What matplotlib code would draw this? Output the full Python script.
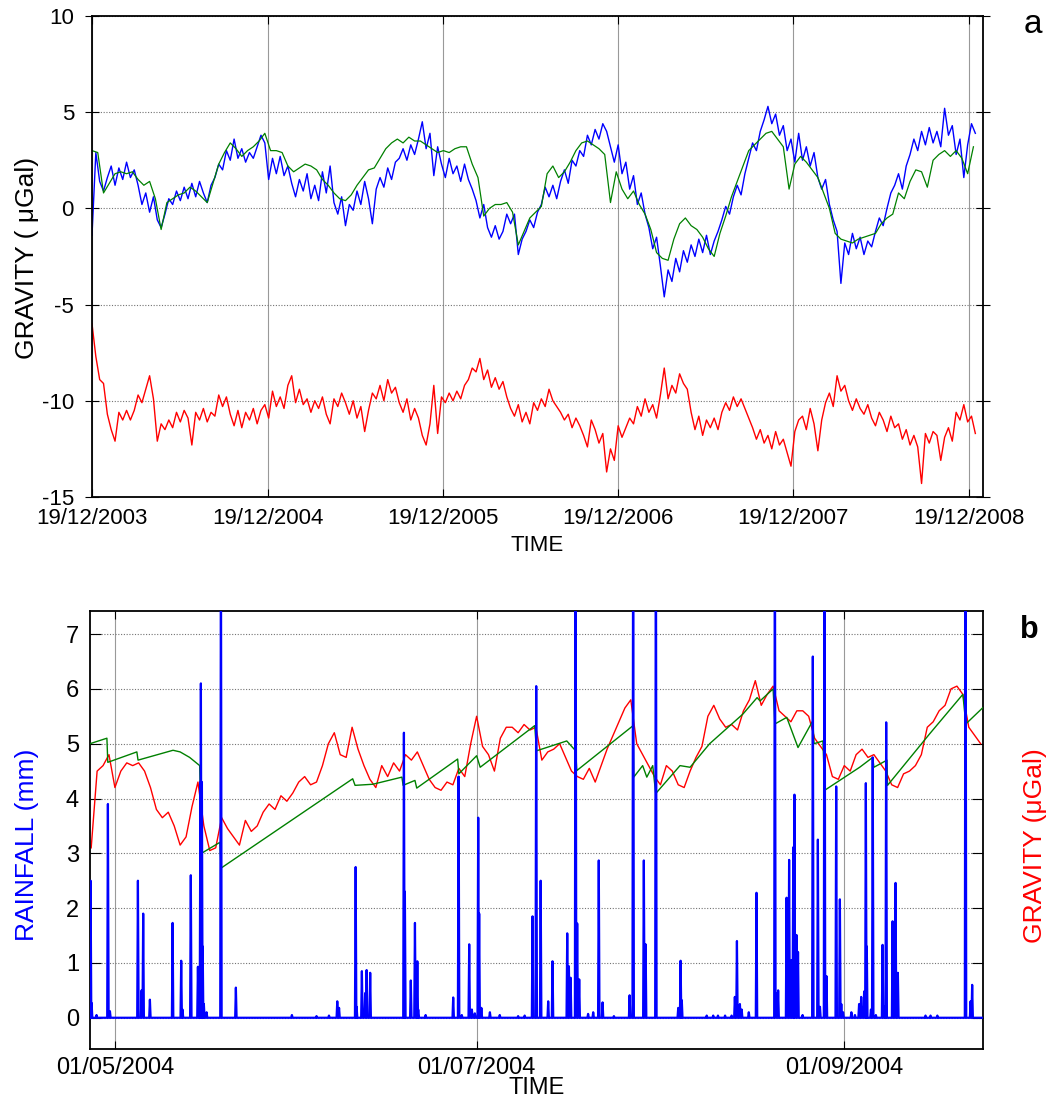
"""Gravity residuals (a) and rainfall vs gravity (b)."""

import datetime as dt
import numpy as np
import matplotlib
matplotlib.use('Agg')
import matplotlib.pyplot as plt
import matplotlib.dates as mdates

plt.rcParams['font.family'] = ['Liberation Sans', 'DejaVu Sans']
plt.rcParams['axes.unicode_minus'] = False

# ---------------- panel a ----------------
a_start = dt.datetime(2003, 12, 19)
a_end = dt.datetime(2009, 1, 17)
a_step = 8        # days between samples of the blue / red series
model_step = 12   # days between samples of the green series

grav_obs = [
    -1.4, 2.9, 1.4, 0.9, 1.6, 2.2, 1.2, 2.1, 1.5, 2.4,
    1.6, 2.0, 1.2, 0.2, 0.8, -0.2, 0.6, -0.6, -1.0, -0.3,
    0.5, 0.2, 0.9, 0.4, 1.1, 0.5, 1.3, 0.6, 1.4, 0.8,
    0.3, 1.2, 1.6, 2.3, 2.0, 3.0, 2.5, 3.6, 2.6, 3.1,
    2.4, 2.9, 2.6, 3.2, 3.8, 3.4, 1.5, 2.6, 1.8, 2.7,
    1.7, 2.2, 1.3, 0.6, 1.5, 0.9, 1.8, 0.5, 1.2, 0.4,
    1.9, 0.8, 2.2, 0.3, -0.3, 0.6, -0.9, 0.2, -0.1, 0.9,
    0.2, 1.4, 0.5, -0.8, 1.0, 1.6, 1.1, 2.1, 1.5, 2.4,
    2.6, 3.1, 2.5, 3.3, 2.8, 3.6, 4.5, 3.1, 3.9, 1.7,
    3.2, 2.3, 1.6, 2.6, 1.8, 2.2, 1.4, 2.3, 1.5, 1.0,
    0.4, -0.5, 0.2, -1.0, -1.5, -0.9, -1.6, -1.2, -0.3, -0.8,
    -0.3, -2.4, -1.6, -1.2, -0.6, -1.0, -0.2, 0.2, 1.1, 0.6,
    1.2, 0.5, 1.4, 2.0, 1.3, 2.5, 2.2, 3.0, 2.7, 3.8,
    3.3, 4.1, 3.6, 4.4, 4.0, 3.2, 2.4, 3.3, 1.8, 2.4,
    1.0, 1.7, 0.2, 0.8, -0.3, -1.0, -2.1, -1.5, -3.0, -4.6,
    -3.2, -3.8, -2.6, -3.3, -2.2, -2.8, -1.9, -2.5, -1.6, -2.3,
    -1.4, -2.4, -1.7, -1.2, -0.6, 0.1, -0.3, 0.6, 1.2, 0.7,
    1.8, 2.6, 3.4, 3.0, 4.0, 4.6, 5.3, 4.4, 4.9, 3.8,
    4.3, 3.0, 3.6, 2.4, 3.9, 2.5, 3.2, 2.2, 2.9, 1.6,
    1.0, 1.5, 0.2, -0.6, -1.2, -3.9, -1.8, -2.4, -1.3, -2.1,
    -1.5, -2.4, -1.7, -2.0, -1.2, -0.5, -0.9, 0.0, 0.8, 1.2,
    1.8, 1.0, 2.2, 2.8, 3.6, 3.0, 4.0, 3.3, 4.2, 3.4,
    4.0, 3.2, 5.2, 3.8, 4.3, 2.8, 3.6, 1.6, 3.3, 4.4, 3.9,
]

grav_model = [
    3.0, 2.9, 0.8, 1.3, 1.8, 1.9, 1.8, 1.9, 1.5, 1.2,
    1.4, 0.5, -1.1, 0.3, 0.5, 0.7, 0.8, 1.1, 0.9, 0.6,
    0.3, 1.3, 2.3, 2.9, 3.4, 3.1, 2.7, 3.0, 3.2, 3.5,
    3.9, 3.0, 3.0, 2.9, 2.2, 1.9, 2.1, 2.3, 2.2, 2.0,
    1.5, 1.2, 0.8, 0.5, 0.4, 0.7, 1.2, 1.6, 2.0, 2.1,
    2.6, 3.1, 3.4, 3.6, 3.4, 3.7, 3.5, 3.5, 3.3, 3.1,
    2.9, 3.0, 2.9, 3.1, 3.2, 3.2, 2.3, 1.6, -0.4, 0.0,
    0.2, 0.2, 0.3, -0.2, -1.9, -1.2, -0.5, -0.2, 0.1, 1.8,
    2.2, 1.6, 1.9, 2.4, 3.0, 3.4, 3.5, 3.3, 3.1, 2.8,
    0.3, 1.9, 1.0, 0.5, 0.9, 0.2, -0.3, -1.1, -2.3, -2.6,
    -2.7, -1.6, -0.8, -0.5, -0.9, -1.1, -1.5, -2.1, -2.5, -1.3,
    -0.4, 0.6, 1.4, 2.2, 3.0, 3.3, 3.6, 3.9, 4.0, 3.6,
    3.2, 1.0, 2.3, 2.7, 2.4, 2.0, 1.6, 0.8, 0.0, -1.3,
    -1.6, -1.7, -1.8, -1.6, -1.5, -1.4, -1.3, -0.8, -0.5, -0.3,
    0.8, 0.5, 1.4, 2.0, 1.9, 1.1, 2.5, 2.8, 3.0, 2.7,
    3.0, 2.6, 1.8, 3.2,
]

grav_ref = [
    -6.0, -7.7, -8.9, -9.1, -10.7, -11.5, -12.1, -10.6, -11.0, -10.5,
    -11.0, -10.5, -9.7, -10.1, -9.4, -8.7, -9.9, -12.1, -11.2, -11.5,
    -11.0, -11.4, -10.6, -11.1, -10.5, -10.9, -12.3, -10.6, -11.0, -10.4,
    -11.1, -10.6, -10.8, -9.7, -10.3, -9.8, -10.7, -11.3, -10.5, -11.4,
    -10.6, -11.0, -10.4, -11.2, -10.5, -10.2, -10.9, -9.5, -10.3, -9.8,
    -10.4, -9.2, -8.7, -10.1, -9.4, -10.2, -9.9, -10.6, -10.0, -10.4,
    -9.8, -10.7, -11.2, -9.9, -10.3, -9.6, -10.1, -10.7, -10.0, -10.9,
    -10.3, -11.6, -10.5, -9.6, -9.9, -9.2, -10.0, -8.9, -9.6, -9.3,
    -10.1, -10.6, -9.9, -11.0, -10.4, -10.9, -11.8, -12.3, -11.2, -9.2,
    -11.7, -9.8, -10.1, -9.6, -10.0, -9.5, -9.9, -9.2, -8.9, -8.3,
    -8.5, -7.8, -8.9, -8.4, -9.3, -8.8, -9.4, -9.0, -9.8, -10.4,
    -10.8, -10.2, -11.1, -10.6, -11.2, -10.1, -10.5, -9.9, -10.3, -9.4,
    -10.0, -10.3, -10.6, -11.0, -10.7, -11.4, -10.9, -11.3, -11.8, -12.4,
    -11.0, -11.5, -12.2, -11.7, -13.7, -12.5, -13.1, -11.3, -11.9, -11.4,
    -10.9, -11.2, -10.3, -10.8, -9.9, -10.6, -10.2, -10.9, -9.7, -8.3,
    -9.9, -9.2, -9.6, -8.6, -9.1, -9.4, -10.6, -11.5, -10.8, -11.8,
    -11.0, -11.4, -10.9, -11.5, -10.6, -10.1, -10.5, -9.8, -10.3, -9.9,
    -10.4, -10.9, -11.4, -12.0, -11.5, -12.2, -11.8, -12.5, -11.6, -12.3,
    -12.0, -12.7, -13.4, -11.6, -11.0, -10.8, -11.5, -10.4, -11.2, -12.6,
    -11.0, -10.1, -9.6, -10.3, -8.7, -9.5, -9.2, -10.0, -10.5, -9.9,
    -10.4, -10.7, -10.2, -10.9, -11.3, -10.6, -11.0, -11.6, -10.8, -11.4,
    -11.2, -12.0, -11.5, -12.3, -11.8, -12.4, -14.3, -11.7, -12.2, -11.6,
    -11.8, -13.1, -11.9, -11.4, -12.1, -10.6, -11.0, -10.2, -11.1, -10.8, -11.7,
]

a_ticks = [dt.datetime(y, 12, 19) for y in range(2003, 2009)]
a_yticks = [-15, -10, -5, 0, 5, 10]

# ---------------- panel b ----------------
b_start = dt.datetime(2004, 5, 1)
b_lim_days = (-4.2, 146.4)
b_grav_first = -4     # day of first daily gravity sample
b_grav = [
    3.1, 4.5, 4.6, 4.8, 4.2, 4.5, 4.65, 4.6, 4.65, 4.5,
    4.2, 3.8, 3.65, 3.75, 3.5, 3.15, 3.3, 3.85, 4.3, 3.5,
    3.05, 3.1, 3.65, 3.45, 3.3, 3.15, 3.6, 3.4, 3.5, 3.75,
    3.9, 3.8, 4.05, 3.95, 4.1, 4.3, 4.4, 4.25, 4.3, 4.6,
    5.0, 5.2, 4.8, 4.75, 5.3, 4.9, 4.6, 4.35, 4.2, 4.6,
    4.4, 4.65, 4.5, 4.8, 4.7, 4.85, 4.6, 4.35, 4.2, 4.15,
    4.3, 4.25, 4.55, 4.4, 5.0, 5.5, 4.95, 4.8, 4.5, 5.1,
    5.3, 5.3, 5.2, 5.35, 5.25, 5.3, 4.7, 4.85, 4.9, 5.0,
    4.75, 4.5, 4.4, 4.35, 4.55, 4.3, 4.6, 4.9, 5.15, 5.4,
    5.65, 5.8, 5.0, 4.8, 4.6, 4.4, 4.25, 4.6, 4.5, 4.25,
    4.2, 4.5, 4.75, 4.95, 5.5, 5.7, 5.45, 5.3, 5.35, 5.25,
    5.6, 5.8, 6.15, 5.7, 5.9, 6.05, 5.6, 5.5, 5.4, 5.6,
    5.6, 5.5, 5.1, 4.95, 4.8, 4.4, 4.35, 4.6, 4.5, 4.8,
    4.9, 4.75, 4.8, 4.65, 4.5, 4.25, 4.2, 4.45, 4.5, 4.6,
    4.8, 5.3, 5.4, 5.6, 5.7, 6.0, 6.05, 5.9, 5.3, 5.15,
    5.0,
]

b_model_day = [
    -4.2, -1.35, -1.2, 3.7, 3.9, 9.8, 11.0, 12.6, 14.3, 14.6,
    17.7, 17.9, 40.1, 40.5, 43.5, 48.4, 48.6, 50.6, 50.9, 57.8,
    58.0, 61.0, 61.6, 70.8, 71.1, 76.2, 77.7, 77.9, 87.4, 87.5,
    89.0, 89.7, 90.7, 91.2, 95.3, 97.0, 100.3, 105.9, 108.3, 108.8,
    111.0, 111.3, 113.3, 115.2, 117.7, 117.9, 119.4, 119.7, 125.6, 127.8,
    128.0, 130.2, 130.3, 137.4, 143.0, 143.5, 146.4,
]
b_model = [
    5.0, 5.1, 4.66, 4.85, 4.7, 4.88, 4.85, 4.75, 4.6, 3.0,
    3.2, 2.73, 4.36, 4.24, 4.26, 4.39, 4.24, 4.33, 4.19, 4.72,
    4.45, 4.78, 4.57, 5.33, 4.87, 5.05, 4.87, 4.51, 5.33, 4.39,
    4.6, 4.39, 4.6, 4.09, 4.6, 4.57, 5.0, 5.54, 5.84, 5.78,
    6.0, 5.36, 5.48, 4.93, 5.42, 5.0, 5.05, 4.15, 4.57, 4.75,
    4.57, 4.7, 4.24, 5.18, 5.9, 5.36, 5.66,
]

rain_day = [
    -4.1, -3.93, -3.1, -1.18, -0.84, 3.88, 4.5, 4.77, 5.9, 9.73,
    11.18, 11.4, 12.8, 14.0, 14.33, 14.42, 14.5, 14.67, 14.8, 15.0,
    15.46, 17.88, 20.4, 29.85, 34.0, 36.1, 37.5, 37.8, 40.6, 40.76,
    41.65, 42.2, 42.45, 43.05, 48.74, 48.9, 49.9, 50.6, 51.0, 51.15,
    52.4, 57.05, 57.96, 58.5, 59.75, 60.2, 60.7, 61.27, 61.43, 61.8,
    63.24, 64.9, 68.0, 69.1, 70.43, 71.05, 71.8, 73.07, 73.8, 76.28,
    76.56, 76.85, 77.69, 77.96, 78.3, 79.8, 80.66, 81.6, 82.24, 84.15,
    86.8, 87.4, 89.2, 89.5, 91.23, 95.0, 95.4, 95.6, 99.8, 100.9,
    101.7, 102.9, 104.0, 104.55, 104.9, 105.4, 105.7, 106.9, 108.2, 111.3,
    111.6, 111.85, 113.27, 113.7, 114.1, 114.4, 114.6, 114.95, 115.2, 115.97,
    117.7, 118.55, 118.9, 119.67, 120.0, 121.64, 122.26, 122.5, 122.8, 124.2,
    124.8, 125.5, 125.85, 126.35, 126.64, 126.8, 127.5, 127.8, 128.33, 129.46,
    129.85, 130.07, 131.15, 131.65, 132.04, 136.7, 137.55, 138.7, 143.45, 144.3,
    144.57,
]
rain_mm = [
    2.5, 0.27, 0.05, 3.9, 0.12, 2.5, 0.5, 1.9, 0.33, 1.73,
    1.04, 0.15, 2.6, 0.93, 0.65, 4.3, 6.1, 4.3, 1.3, 0.25,
    0.1, 9.0, 0.55, 0.05, 0.03, 0.04, 0.3, 0.18, 2.75, 0.2,
    0.85, 0.45, 0.87, 0.82, 5.2, 2.3, 0.68, 1.73, 1.03, 0.15,
    0.05, 0.37, 4.4, 0.05, 1.34, 0.15, 0.08, 3.65, 1.9, 0.18,
    0.1, 0.05, 0.03, 0.04, 1.85, 6.05, 2.5, 0.3, 1.03, 1.54,
    0.94, 0.73, 10.0, 1.72, 0.7, 0.07, 0.1, 2.87, 0.28, 0.03,
    0.41, 10.0, 2.87, 1.34, 10.0, 0.18, 1.04, 0.32, 0.04, 0.04,
    0.04, 0.04, 0.04, 0.38, 1.4, 0.25, 0.15, 0.1, 2.28, 10.0,
    0.45, 0.5, 2.19, 2.88, 1.05, 3.11, 4.07, 1.51, 1.2, 0.05,
    6.59, 3.25, 0.2, 10.0, 0.76, 4.22, 2.16, 0.25, 0.1, 0.1,
    0.05, 0.25, 0.38, 0.48, 4.28, 1.3, 0.15, 4.75, 0.05, 1.33,
    0.2, 5.39, 1.76, 2.46, 0.82, 0.04, 0.04, 0.04, 10.0, 0.3,
    0.6,
]

b_ticks = [dt.datetime(2004, 5, 1), dt.datetime(2004, 7, 1), dt.datetime(2004, 9, 1)]
b_yticks = [0, 1, 2, 3, 4, 5, 6, 7]

BLUE = (0, 0, 1)
GREEN = (0, 0.5, 0)
RED = (1, 0, 0)


def style_axes(ax, fs_x, fs_y, ticks, yticks):
    ax.set_xticks(mdates.date2num(ticks))
    ax.xaxis.set_major_formatter(mdates.DateFormatter('%d/%m/%Y'))
    ax.set_yticks(yticks)
    ax.grid(False)
    for t in ax.get_xticks():
        ax.axvline(t, color='0.6', lw=0.8, zorder=0)
    for t in yticks:
        ax.axhline(t, color='0.45', lw=0.8, ls=(0, (1, 1.5)), zorder=0)
    ax.tick_params(axis='x', which='both', direction='in', top=True,
                   length=6, labelsize=fs_x, pad=8)
    ax.tick_params(axis='y', which='both', direction='in', right=True,
                   length=8, labelsize=fs_y, pad=8)
    for s in ax.spines.values():
        s.set_linewidth(1.3)


fig = plt.figure(figsize=(10.49, 10.99), dpi=100)

# panel a
ax1 = fig.add_axes([0.0877, 0.5478, 0.8494, 0.4377])
a0 = mdates.date2num(a_start)
x_obs = a0 + a_step * np.arange(len(grav_obs))
x_ref = a0 + a_step * np.arange(len(grav_ref))
x_mod = a0 + model_step * np.arange(len(grav_model))
ax1.plot(x_obs, grav_obs, color=BLUE, lw=1.0)
ax1.plot(x_mod, grav_model, color=GREEN, lw=0.9)
ax1.plot(x_ref, grav_ref, color=RED, lw=1.0)
ax1.set_xlim(mdates.date2num(a_start), mdates.date2num(a_end))
ax1.set_ylim(-15, 10)
style_axes(ax1, 16, 16, a_ticks, a_yticks)
ax1.tick_params(axis='y', which='both', direction='inout', right=True, length=10)
ax1.set_xlabel('TIME', fontsize=16, labelpad=4)
fig.text(0.026, 0.765, 'GRAVITY ( \u03bcGal)', rotation=90, fontsize=19,
         ha='center', va='center')
fig.text(0.985, 0.978, 'a', fontsize=24, ha='center', va='center')

# panel b
ax2 = fig.add_axes([0.0858, 0.0455, 0.8513, 0.3985])
b0 = mdates.date2num(b_start)
rx = [b_lim_days[0]]
ry = [0.0]
for d, r in sorted(zip(rain_day, rain_mm)):
    rx += [d - 0.12, d, d + 0.12]
    ry += [0.0, r, 0.0]
rx.append(b_lim_days[1])
ry.append(0.0)
x_bg = b0 + b_grav_first + np.arange(len(b_grav))
ax2.plot(x_bg, b_grav, color=RED, lw=1.0, zorder=2)
ax2.plot(b0 + np.array(b_model_day), b_model, color=GREEN, lw=1.0, zorder=3)
ax2.plot(b0 + np.array(rx), ry, color=BLUE, lw=1.6, zorder=4)
ax2.set_xlim(b0 + b_lim_days[0], b0 + b_lim_days[1])
ax2.set_ylim(-0.57, 7.42)
style_axes(ax2, 17, 17, b_ticks, b_yticks)
ax2.tick_params(axis='x', pad=6)
ax2.tick_params(axis='y', labelright=False)
ax2.set_xlabel('TIME', fontsize=17, labelpad=-2)
fig.text(0.026, 0.231, 'RAINFALL (mm)', rotation=90, fontsize=19,
         ha='center', va='center', color=BLUE)
fig.text(0.987, 0.231, 'GRAVITY (\u03bcGal)', rotation=90, fontsize=19,
         ha='center', va='center', color=RED)
fig.text(0.981, 0.427, 'b', fontsize=22, fontweight='bold', ha='center', va='center')

plt.savefig('out.png', dpi=100)
